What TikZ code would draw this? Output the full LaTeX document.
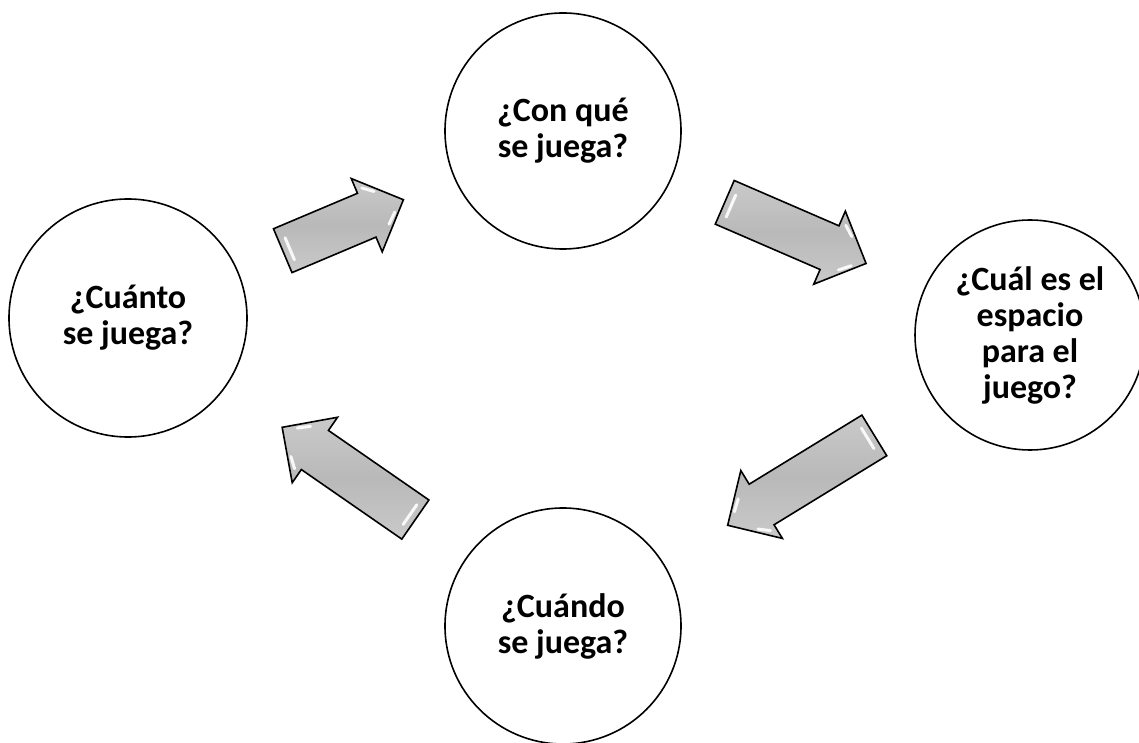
\documentclass[tikz,border=0pt]{standalone}
\usepackage{fontspec}
\setmainfont{Carlito}
\usetikzlibrary{shapes.arrows}

\begin{document}
\begin{tikzpicture}[x=1pt,y=1pt]
        % Define style for the nodes
        \tikzstyle{pregunta}=[circle,draw,line width=1.6pt,minimum size=236pt,inner sep=0pt,align=center,font=\fontsize{34}{36}\selectfont\bfseries]
        \tikzstyle{flecha}=[single arrow,draw,line width=1.6pt,inner xsep=0pt,inner ysep=23pt,single arrow head extend=16pt,top color=gray!42,bottom color=gray!42,middle color=gray!55]
        \tikzstyle{brillo}=[white,line width=3pt,line cap=round,opacity=0.9]

        \useasboundingbox (0,0) rectangle (1139,742);

        % Draw the circles
        \node[pregunta] (con) at (563,611) {¿Con qué\\se juega?};
        \node[pregunta,minimum size=230pt] (cual) at (1030,407) {¿Cuál es el\\espacio\\para el\\juego?};
        \node[pregunta] (cuando) at (563,116) {¿Cuándo\\se juega?};
        \node[pregunta,minimum size=238pt] (cuanto) at (128,424) {¿Cuánto\\se juega?};

        % Draw the arrows between them (placed by their tails)
        \foreach \nombre/\x/\y/\giro/\largo in {a1/282/491/22.9/131, a2/724/540/-23.4/154, a3/875/307/211.5/172, a4/416/222/145.3/162} {
            \node[flecha,minimum height=\largo,rotate=\giro,anchor=tail] (\nombre) at (\x,\y) {};
            % glossy streaks, measured from the tail
            \begin{scope}[shift={(\nombre.tail)},rotate=\giro]
                \draw[brillo] (8,-13) -- (8,11);
                \draw[brillo] (\largo-33,27) -- (\largo-23,19);
                \draw[brillo] (\largo-12,-8) -- (\largo-22,-17);
            \end{scope}
        }
\end{tikzpicture}
\end{document}
